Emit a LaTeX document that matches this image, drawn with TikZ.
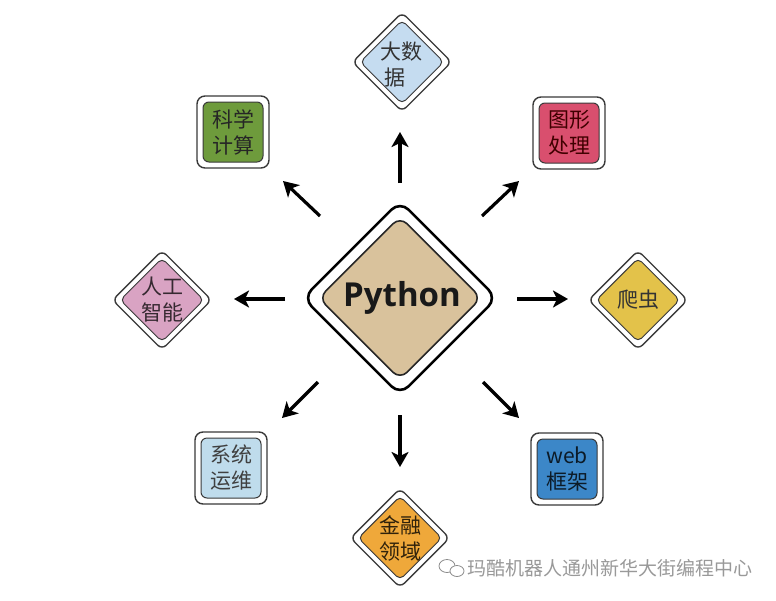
\documentclass[tikz,border=0pt]{standalone}
\usepackage{fontspec}
\setmainfont{Noto Sans CJK SC}
\newfontfamily\pyfont{Open Sans}
\usetikzlibrary{arrows.meta}
\definecolor{cBig}{HTML}{C5DCF0}
\definecolor{cSci}{HTML}{6E9B3C}
\definecolor{cImg}{HTML}{D94F6E}
\definecolor{cAI}{HTML}{D9A3C3}
\definecolor{cSpi}{HTML}{E3C24A}
\definecolor{cOps}{HTML}{BFDCEC}
\definecolor{cWeb}{HTML}{3C87C8}
\definecolor{cFin}{HTML}{EFA83A}
\definecolor{cPy}{HTML}{D9C29C}
\definecolor{bord}{HTML}{3A3A3A}
\begin{document}
\begin{tikzpicture}[x=1pt,y=-1pt,
 outerdia/.style={draw=bord, line width=1.4pt, fill=white, rounded corners=6pt, minimum size=70pt, rotate=45, inner sep=0pt},
 innerdia/.style={draw=bord, line width=1pt, rounded corners=5pt, minimum size=59pt, rotate=45, inner sep=0pt},
 outersq/.style={draw=bord, line width=1.4pt, fill=white, rounded corners=8pt, minimum size=72pt, inner sep=0pt},
 innersq/.style={draw=bord, line width=1pt, rounded corners=6pt, minimum size=60pt, inner sep=0pt},
 lbl/.style={font=\fontsize{21}{26}\selectfont, align=left, inner sep=0pt, text=#1},
 lbl/.default=black!80,
 arr/.style={line width=3.2pt, -{Stealth[length=15pt,width=17pt,inset=4pt]}}
]
\useasboundingbox[fill=white] (0,0) rectangle (776,600);

% central Python
\node[draw=black, line width=2.6pt, fill=white, rounded corners=12pt, minimum size=137pt, rotate=45, inner sep=0pt] (py) at (400,298) {};
\node[draw=black!85, line width=1.6pt, fill=cPy, rounded corners=10pt, minimum size=115pt, rotate=45, inner sep=0pt] (pyin) at (py) {};
\node[font=\pyfont\bfseries\fontsize{33}{36}\selectfont, text=black!90] (pyt) at (402,298) {Python};

% big data
\node[outerdia] (bd) at (402,62) {};
\node[innerdia, fill=cBig] (bdin) at (bd) {};
\node[lbl] (bdt) at (401,65) {大数\\\ 据};

% scientific computing
\node[outersq] (sc) at (233,132) {};
\node[innersq, fill=cSci] (scin) at (sc) {};
\node[lbl=black!85] (sct) at (sc) {科学\\计算};

% image processing
\node[outersq] (ip) at (569,133) {};
\node[innersq, fill=cImg] (ipin) at (ip) {};
\node[lbl=black!75!red] (ipt) at (ip) {图形\\处理};

% AI
\node[outerdia] (ai) at (162,300) {};
\node[innerdia, fill=cAI] (aiin) at (ai) {};
\node[lbl=black!75!cAI] (ait) at (ai) {人工\\智能};

% spider
\node[outerdia] (sp) at (638,300) {};
\node[innerdia, fill=cSpi] (spin) at (sp) {};
\node[lbl] (spt) at (sp) {爬虫};

% ops
\node[outersq] (op) at (231,468) {};
\node[innersq, fill=cOps] (opin) at (op) {};
\node[lbl=black!75] (opt) at (op) {系统\\运维};

% web
\node[outersq] (wb) at (567,469) {};
\node[innersq, fill=cWeb] (wbin) at (wb) {};
\node[lbl=black!80!cWeb, align=center] (wbt) at (wb) {web\\框架};

% finance
\node[outerdia] (fi) at (400,538) {};
\node[innerdia, fill=cFin] (fiin) at (fi) {};
\node[lbl=black!80!cFin] (fit) at (fi) {金融\\领域};

% arrows
\coordinate (aU1) at (400,183); \coordinate (aU2) at (400,132);
\coordinate (aUL1) at (320,216); \coordinate (aUL2) at (283,181);
\coordinate (aUR1) at (482,216); \coordinate (aUR2) at (519,181);
\coordinate (aL1) at (285,299); \coordinate (aL2) at (234,299);
\coordinate (aR1) at (517,299); \coordinate (aR2) at (568,299);
\coordinate (aDL1) at (318,382); \coordinate (aDL2) at (282,418);
\coordinate (aD1) at (400,415); \coordinate (aD2) at (400,467);
\coordinate (aDR1) at (483,382); \coordinate (aDR2) at (519,418);
\draw[arr] (aU1) -- (aU2);
\draw[arr] (aUL1) -- (aUL2);
\draw[arr] (aUR1) -- (aUR2);
\draw[arr] (aL1) -- (aL2);
\draw[arr] (aR1) -- (aR2);
\draw[arr] (aDL1) -- (aDL2);
\draw[arr] (aD1) -- (aD2);
\draw[arr] (aDR1) -- (aDR2);

% watermark
\draw[black!45, line width=0.8pt] (447,566) ellipse (8pt and 6.5pt);
\draw[black!45, line width=0.8pt, fill=white] (457,571) ellipse (7pt and 5.5pt);
\node[font=\fontsize{19}{22}\selectfont, text=black!40, anchor=west, inner sep=0pt] (wm) at (467,568) {玛酷机器人通州新华大街编程中心};
\end{tikzpicture}
\end{document}
